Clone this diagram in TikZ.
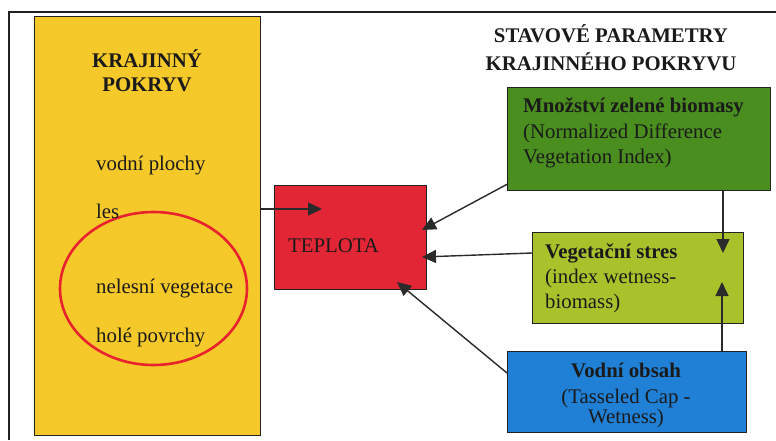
\documentclass[tikz,border=0pt]{standalone}
\usepackage{fontspec}
\setmainfont{LiberationSerif}[Extension=.ttf, UprightFont=*-Regular, BoldFont=*-Bold, ItalicFont=*-Italic, BoldItalicFont=*-BoldItalic]
\usetikzlibrary{arrows.meta,calc}
\definecolor{yel}{HTML}{F5C92A}
\definecolor{redb}{HTML}{E32636}
\definecolor{grn}{HTML}{4B8E20}
\definecolor{lgrn}{HTML}{A9C22C}
\definecolor{blu}{HTML}{1F80D6}
\definecolor{ellred}{HTML}{E8232E}
\definecolor{boxline}{HTML}{222222}
\definecolor{arrowcol}{HTML}{2A2A2A}
\definecolor{txtcol}{HTML}{1A1A1A}
\begin{document}
\begin{tikzpicture}[x=1pt,y=-1pt,
  box/.style={draw=boxline, line width=1.3pt, inner sep=0pt, anchor=north west},
  txt/.style={anchor=base west, inner sep=0pt, text=txtcol, font=\fontsize{20.8}{26}\selectfont},
  txtb/.style={txt, font=\fontsize{20.8}{26}\selectfont\bfseries},
  ctxt/.style={txt, anchor=base},
  ctxtb/.style={txtb, anchor=base},
  arr/.style={draw=arrowcol, line width=1.4pt, -{Triangle[length=14pt,width=13pt]}}]
\useasboundingbox (0,0) rectangle (776,440);
\fill[white] (0,0) rectangle (776,440);
\draw[line width=1.5pt, boxline] (9,440) -- (9,12) -- (776,12);

% boxes
\node[box, fill=yel, minimum width=226pt, minimum height=419pt] (yellow) at (34,16) {};
\node[box, fill=redb, minimum width=152pt, minimum height=104pt] (red) at (274,185) {};
\node[box, fill=grn, minimum width=263pt, minimum height=103pt] (green) at (507,87) {};
\node[box, fill=lgrn, minimum width=211pt, minimum height=91pt] (lgreen) at (532,232) {};
\node[box, fill=blu, minimum width=239pt, minimum height=81pt] (blue) at (507,351) {};

% ellipse
\draw[ellred, line width=2.6pt] (153.5,288.5) ellipse [x radius=93.5, y radius=76.5];

% yellow box texts
\node[ctxtb] (t1) at (147,67) {KRAJINNÝ};
\node[ctxtb] (t2) at (147,91) {POKRYV};
\node[txt] (t3) at (96,170) {vodní plochy};
\node[txt] (t4) at (96,218) {les};
\node[txt] (t5) at (96,293) {nelesní vegetace};
\node[txt] (t6) at (96,342) {holé povrchy};

% red
\node[txt] (t7) at (288,252) {TEPLOTA};

% title
\node[ctxtb] (t8) at (611,42) {STAVOVÉ PARAMETRY};
\node[ctxtb] (t9) at (611,70) {KRAJINNÉHO POKRYVU};

% green
\node[txtb] (t10) at (523,112) {Množství zelené biomasy};
\node[txt] (t11) at (523,138) {(Normalized Difference};
\node[txt] (t12) at (523,163) {Vegetation Index)};

% light green
\node[txtb] (t13) at (545,258) {Vegetační stres};
\node[txt] (t14) at (545,283) {(index wetness-};
\node[txt] (t15) at (545,308) {biomass)};

% blue
\node[ctxtb] (t16) at (626,377) {Vodní obsah};
\node[ctxt] (t17) at (626,403) {(Tasseled Cap -};
\node[ctxt] (t18) at (626,423) {Wetness)};

% arrows
\coordinate (tA) at (322,209);
\draw[arr] (yellow.east |- tA) -- (tA);
\coordinate (tB) at (422,230);
\draw[arr] ($(green.south west)+(0,-7)$) -- (tB);
\coordinate (tC) at (723,253);
\draw[arr] (green.south -| tC) -- (tC);
\coordinate (tD) at (422,257);
\draw[arr] ($(lgreen.north west)+(0,21)$) -- (tD);
\coordinate (tE) at (722,282);
\draw[arr] (blue.north -| tE) -- (tE);
\coordinate (tF) at (397,282);
\draw[arr] ($(blue.north west)+(0,22)$) -- (tF);
\end{tikzpicture}
\end{document}
